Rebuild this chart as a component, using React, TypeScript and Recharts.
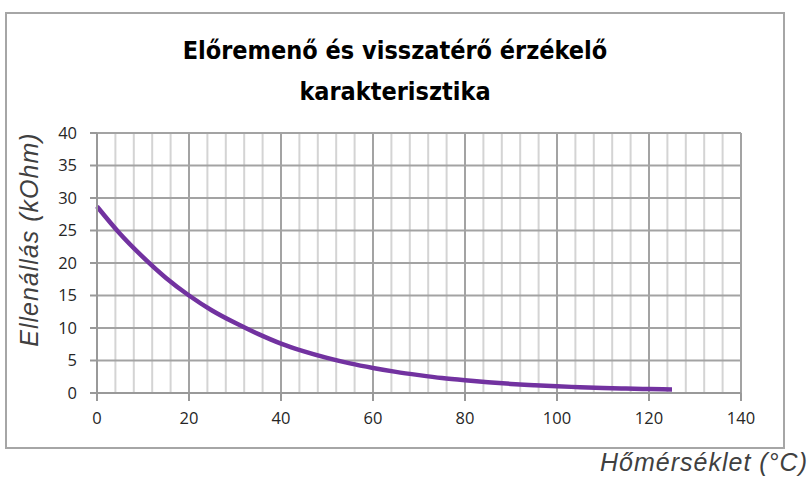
import { CartesianGrid, Line, LineChart, XAxis, YAxis } from "recharts";

const temperatures = [0, 5, 10, 15, 20, 25, 30, 35, 40, 45, 50, 55, 60, 65, 70, 75, 80, 85, 90, 95, 100, 105, 110, 115, 120, 125];
const resistances = [28.7, 24.5, 20.9, 17.7, 15.0, 12.7, 10.8, 9.1, 7.6, 6.4, 5.4, 4.55, 3.85, 3.25, 2.75, 2.3, 1.95, 1.65, 1.4, 1.2, 1.02, 0.9, 0.78, 0.68, 0.6, 0.54];

const xTicks = [0, 20, 40, 60, 80, 100, 120, 140];
const minorXTicks = [4, 8, 12, 16, 24, 28, 32, 36, 44, 48, 52, 56, 64, 68, 72, 76, 84, 88, 92, 96, 104, 108, 112, 116, 124, 128, 132, 136];
const yTicks = [0, 5, 10, 15, 20, 25, 30, 35, 40];

const data = temperatures.map((t, i) => ({ t, r: resistances[i] }));

const tickFont = { fontFamily: "'Open Sans', sans-serif", fontSize: 16.5, fill: "#262626" };
const axisTitleFont = "'Liberation Sans', Arial, sans-serif";

export default function App() {
  return (
    <div style={{ position: "absolute", left: 0, top: 0, width: 812, height: 479, background: "#fff" }}>
      <div
        style={{
          position: "absolute",
          left: 5,
          top: 12,
          width: 776,
          height: 433,
          border: "2px solid #a6a6a6",
        }}
      />
      <div
        style={{
          position: "absolute",
          left: 0,
          top: 30,
          width: 790,
          textAlign: "center",
          fontFamily: "'Liberation Sans Narrow', 'DejaVu Sans Condensed', sans-serif",
          fontWeight: "bold",
          fontSize: 25,
          lineHeight: "41px",
          color: "#000",
        }}
      >
        <div>Előremenő és visszatérő érzékelő</div>
        <div>karakterisztika</div>
      </div>
      <div style={{ position: "absolute", left: 0, top: 0 }}>
        <LineChart width={812} height={479} data={data} margin={{ top: 133, right: 71, bottom: 56, left: 37 }}>
          <XAxis xAxisId="minor" type="number" dataKey="t" domain={[0, 140]} ticks={minorXTicks} interval={0} hide />
          <CartesianGrid xAxisId="minor" horizontal={false} stroke="#d4d4d4" strokeWidth={2} />
          <CartesianGrid stroke="#a3a3a3" strokeWidth={2} />
          <XAxis
            type="number"
            dataKey="t"
            domain={[0, 140]}
            ticks={xTicks}
            interval={0}
            height={30}
            tickSize={8}
            tickMargin={11}
            tick={tickFont}
            stroke="#999"
            axisLine={{ stroke: "#999", strokeWidth: 2 }}
            tickLine={{ stroke: "#999", strokeWidth: 2 }}
          />
          <YAxis
            type="number"
            domain={[0, 40]}
            ticks={yTicks}
            interval={0}
            width={60}
            tickSize={7}
            tickMargin={13}
            tick={tickFont}
            axisLine={{ stroke: "#999", strokeWidth: 2 }}
            tickLine={{ stroke: "#999", strokeWidth: 2 }}
            label={{
              content: ({ viewBox }: any) => {
                const x = viewBox.x - 8;
                const y = viewBox.y + viewBox.height * 0.41;
                return (
                  <text
                    x={x}
                    y={y}
                    transform={`rotate(-90, ${x}, ${y})`}
                    textAnchor="middle"
                    dominantBaseline="central"
                    fontFamily={axisTitleFont}
                    fontStyle="italic"
                    fontSize={25}
                    letterSpacing={1}
                    fill="#404040"
                  >
                    Ellenállás (kOhm)
                  </text>
                );
              },
            }}
          />
          <Line
            type="monotone"
            dataKey="r"
            stroke="#7232a0"
            strokeWidth={4.5}
            dot={false}
            isAnimationActive={false}
          />
        </LineChart>
      </div>
      <div
        style={{
          position: "absolute",
          right: 4,
          top: 448,
          fontFamily: axisTitleFont,
          fontStyle: "italic",
          fontSize: 25,
          letterSpacing: 1,
          color: "#404040",
          whiteSpace: "nowrap",
        }}
      >
        Hőmérséklet (°C)
      </div>
    </div>
  );
}
